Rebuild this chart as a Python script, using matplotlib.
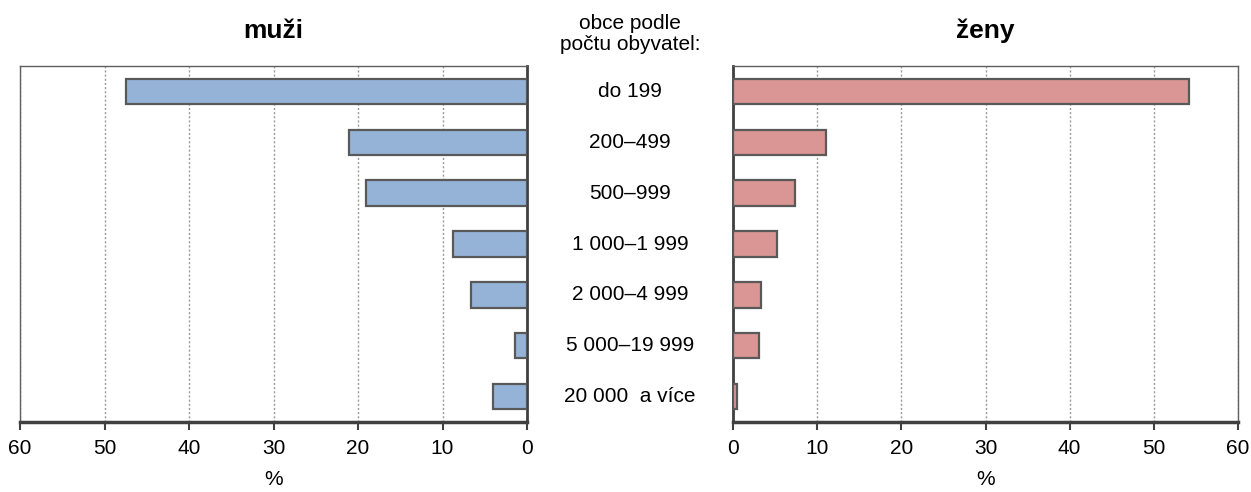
import matplotlib.pyplot as plt
import numpy as np

plt.rcParams['font.family'] = ['Liberation Sans', 'DejaVu Sans']

categories = ["do 199", "200–499", "500–999", "1 000–1 999",
              "2 000–4 999", "5 000–19 999", "20 000  a více"]
muzi = [47.5, 21.1, 19.1, 8.8, 6.6, 1.4, 4.0]
zeny = [54.2, 11.0, 7.4, 5.2, 3.3, 3.1, 0.5]
ticks = [0, 10, 20, 30, 40, 50, 60]

BLUE = "#95b3d7"
RED = "#d99694"
EDGE = "#595959"
AXIS = "#404040"

fig = plt.figure(figsize=(12.51, 4.92), dpi=100)
ax_l = fig.add_axes([20 / 1251, 1 - 422 / 492, 507 / 1251, 356 / 492])
ax_r = fig.add_axes([733 / 1251, 1 - 422 / 492, 505 / 1251, 356 / 492])

y = np.arange(len(categories))

for ax, vals, color, zero_side in [(ax_l, muzi, BLUE, "right"), (ax_r, zeny, RED, "left")]:
    ax.barh(y, vals, height=0.5, color=color, edgecolor=EDGE, linewidth=1.6, zorder=3)
    ax.set_xlim(0, 60)
    ax.set_ylim(len(categories) - 0.5, -0.5)
    ax.set_xticks(ticks)
    ax.set_yticks([])
    ax.xaxis.grid(True, linestyle=(0, (1.5, 1.5)), color="#9a9a9a", linewidth=1)
    ax.set_axisbelow(True)
    for side in ["top", "left", "right"]:
        ax.spines[side].set_color("#606060")
        ax.spines[side].set_linewidth(1.0)
    ax.spines[zero_side].set_color(AXIS)
    ax.spines[zero_side].set_linewidth(2)
    ax.spines["bottom"].set_color(AXIS)
    ax.spines["bottom"].set_linewidth(2.5)
    ax.tick_params(axis="x", direction="out", length=6, width=1.5, color=AXIS,
                   labelsize=15, pad=6)
    ax.set_xlabel("%", fontsize=15, labelpad=9)

ax_l.invert_xaxis()

ax_l.set_title("muži", fontsize=19, fontweight="bold", pad=20)
ax_r.set_title("ženy", fontsize=19, fontweight="bold", pad=20)

# category labels in the middle
for i, cat in enumerate(categories):
    yy = ax_l.transData.transform((0, i))[1]
    fig.text(630 / 1251, yy / fig.dpi / fig.get_figheight(), cat,
             ha="center", va="center", fontsize=15)

fig.text(630 / 1251, 1 - 34 / 492, "obce podle\npočtu obyvatel:",
         ha="center", va="center", fontsize=15, linespacing=1.12)

fig.savefig("out.png", dpi=100)
